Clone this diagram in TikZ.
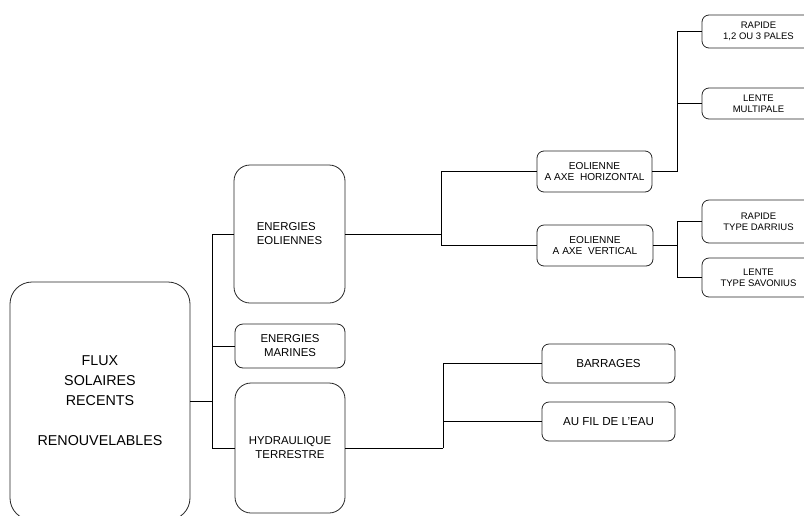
\documentclass[tikz,border=0pt]{standalone}
\usepackage{fontspec}
\setmainfont{Liberation Sans}
\usetikzlibrary{positioning,calc}
\definecolor{boxline}{rgb}{0.15,0.15,0.15}
\tikzset{
  root/.style={rounded corners=22pt, draw=boxline, line width=0.8pt, align=center,
               minimum width=180pt, minimum height=238pt, inner sep=0pt,
               font=\fontsize{14.3}{20}\selectfont},
  branch/.style={rounded corners=#1, draw=boxline, line width=0.8pt, align=center,
                 minimum width=110pt, inner sep=0pt, font=\fontsize{11.4}{14}\selectfont},
  branch/.default=16pt,
  leaf/.style={rounded corners=7pt, draw=boxline, line width=0.8pt, align=center,
               inner sep=0pt, font=\fontsize{10.1}{11.8}\selectfont},
  tip/.style={rounded corners=7pt, draw=boxline, line width=0.8pt, align=center,
              minimum width=113pt, inner sep=0pt, font=\fontsize{9.5}{11.2}\selectfont},
  link/.style={draw=black, line width=0.8pt},
}

\begin{document}
\begin{tikzpicture}[x=1pt, y=-1pt]
  \useasboundingbox (0,0) rectangle (804,515);
  \clip (0,0) rectangle (804,515);
  % root
  \node[root] (flux) at (100,401) {FLUX\\SOLAIRES\\RECENTS\\[20pt]RENOUVELABLES};
  % first level
  \node[branch, minimum width=111pt, minimum height=138pt, align=left] (eol) at (289.5,234)
    {ENERGIES\\EOLIENNES};
  \node[branch=8pt, minimum height=44pt] (mar) at (290,346) {ENERGIES\\MARINES};
  \node[branch, minimum height=130pt] (hyd) at (290,448) {HYDRAULIQUE\\TERRESTRE};
  % second level
  \node[leaf, minimum width=115pt, minimum height=41pt] (eolh) at (594.5,171.5)
    {EOLIENNE\\A AXE\ \ HORIZONTAL};
  \node[leaf, minimum width=116pt, minimum height=41pt] (eolv) at (595,245.5)
    {EOLIENNE\\A AXE\ \ VERTICAL};
  \node[leaf, minimum width=133pt, minimum height=39pt, font=\fontsize{11.6}{13}\selectfont]
    (bar) at (608.5,363.5) {BARRAGES};
  \node[leaf, minimum width=133pt, minimum height=39pt, font=\fontsize{11.6}{13}\selectfont]
    (fil) at (608.5,421.5) {AU FIL DE L'EAU};
  % third level
  \node[tip, minimum height=33pt] (rap1) at (758.5,31.5) {RAPIDE\\1,2 OU 3 PALES};
  \node[tip, minimum height=31pt] (len1) at (758.5,103.5) {LENTE\\MULTIPALE};
  \node[tip, minimum height=43pt] (rap2) at (758.5,221.5) {RAPIDE\\TYPE DARRIUS};
  \node[tip, minimum height=39pt] (len2) at (758.5,277.5) {LENTE\\TYPE SAVONIUS};
  % junctions
  \coordinate (j0) at (212,401);
  \coordinate (j1) at (441,234);
  \coordinate (j2) at (443,448);
  \coordinate (j3) at (677,171.5);
  \coordinate (j4) at (677,245.5);
  % connectors
  \draw[link] (flux.east) -- (j0);
  \draw[link] (j0) |- (eol.west);
  \draw[link] (j0) |- (mar.west);
  \draw[link] (j0) |- (hyd.west);
  \draw[link] (eol.east) -- (j1);
  \draw[link] (j1) |- (eolh.west);
  \draw[link] (j1) |- (eolv.west);
  \draw[link] (hyd.east) -- (j2);
  \draw[link] (j2) |- (bar.west);
  \draw[link] (j2) |- (fil.west);
  \draw[link] (eolh.east) -- (j3);
  \draw[link] (j3) |- (rap1.west);
  \draw[link] (j3) |- (len1.west);
  \draw[link] (eolv.east) -- (j4);
  \draw[link] (j4) |- (rap2.west);
  \draw[link] (j4) |- (len2.west);
\end{tikzpicture}
\end{document}
